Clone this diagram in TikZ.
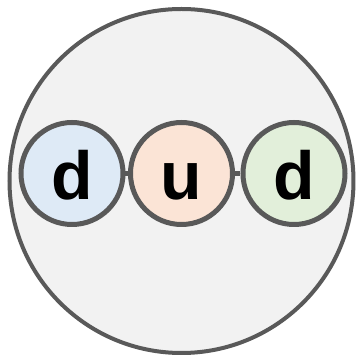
\documentclass[tikz,border=0pt]{standalone}
\usepackage{fontspec}
\setmainfont{Liberation Sans}
\begin{document}
\begin{tikzpicture}[x=1pt,y=1pt,
  ring/.style={draw=linegray,line width=4pt},
  quark/.style={circle,draw=linegray,line width=5pt,inner sep=0pt,minimum size=102pt},
  qlabel/.style={anchor=base,inner sep=0pt,font=\fontsize{68}{68}\selectfont\bfseries},
  link/.style={draw=linegray,line width=5pt}]
\definecolor{linegray}{HTML}{595959}
\definecolor{bgfill}{HTML}{F2F2F2}
\definecolor{qblue}{HTML}{DEEAF6}
\definecolor{qorange}{HTML}{FBE4D6}
\definecolor{qgreen}{HTML}{E2EFDA}
\useasboundingbox (0,0) rectangle (360,356);
\node[circle,ring,fill=bgfill,inner sep=0pt,minimum size=344pt] (hadron) at (181.5,175) {};
\node[quark,fill=qblue] (q1) at (72,182.5) {};
\node[quark,fill=qorange] (q2) at (181.5,182.5) {};
\node[quark,fill=qgreen] (q3) at (294,182.5) {};
\draw[link] (q1) -- (q2);
\draw[link] (q2) -- (q3);
\node[qlabel] (t1) at (72,156) {d};
\node[qlabel] (t2) at (181.5,156) {u};
\node[qlabel] (t3) at (294,156) {d};
\end{tikzpicture}
\end{document}
